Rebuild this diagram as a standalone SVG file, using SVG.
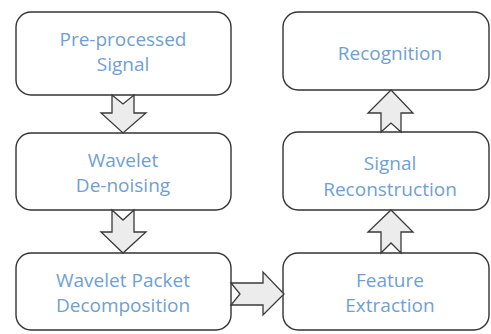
<svg xmlns="http://www.w3.org/2000/svg" width="491" height="334" viewBox="0 0 491 334">
<style>
.box{fill:#ffffff;stroke:#333333;stroke-width:1.4}
.arr{fill:#ececec;stroke:#3a3a3a;stroke-width:1.3;stroke-linejoin:miter}
text{font-family:"Open Sans","Noto Sans",sans-serif;font-size:19px;fill:#6f9fd3;text-anchor:middle}
</style>
<rect width="491" height="334" fill="#ffffff"/>
<g id="pre-processed">
<rect class="box" x="16" y="12" width="215" height="83" rx="15"/>
<text x="123" y="46">Pre-processed</text>
<text x="123" y="71">Signal</text>
</g>
<g id="denoising">
<rect class="box" x="16" y="133" width="215" height="77" rx="15"/>
<text x="123" y="167">Wavelet</text>
<text x="123" y="192">De-noising</text>
</g>
<g id="decomposition">
<rect class="box" x="16" y="253" width="215" height="77" rx="15"/>
<text x="123" y="287">Wavelet Packet</text>
<text x="123" y="312">Decomposition</text>
</g>
<g id="recognition">
<rect class="box" x="283" y="12" width="206" height="78" rx="15"/>
<text x="390" y="60">Recognition</text>
</g>
<g id="reconstruction">
<rect class="box" x="283" y="132" width="206" height="78" rx="15"/>
<text x="390" y="170">Signal</text>
<text x="390" y="196">Reconstruction</text>
</g>
<g id="feature">
<rect class="box" x="283" y="253" width="206" height="77" rx="15"/>
<text x="390" y="287">Feature</text>
<text x="390" y="312">Extraction</text>
</g>
<g id="connectors">
<path class="arr" d="M112,95 L123,104 L134,95 L134,113 L146,113 L123,133 L101,113 L112,113 Z"/>
<path class="arr" d="M112,210 L123,220 L134,210 L134,232 L146,232 L123,253 L101,232 L112,232 Z"/>
<path class="arr" d="M231,283 L240,294 L231,305 L263,305 L263,315 L284,294 L263,272 L263,283 Z"/>
<path class="arr" d="M381,253 L391,243 L401,253 L401,232 L413,232 L391,210 L368,232 L381,232 Z"/>
<path class="arr" d="M381,132 L391,123 L401,132 L401,113 L413,113 L391,90 L368,113 L381,113 Z"/>
</g>
</svg>
